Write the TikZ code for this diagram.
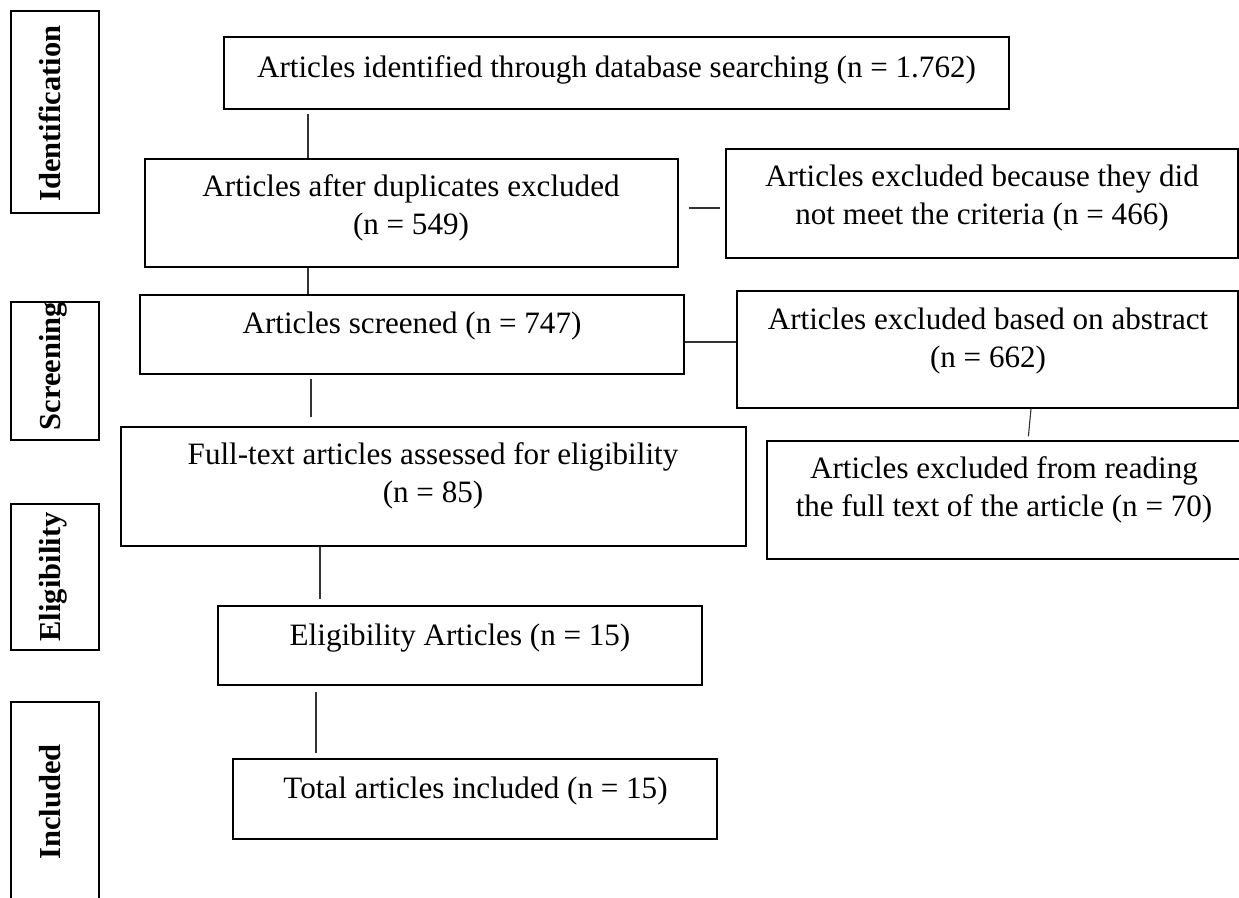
\documentclass[tikz,border=0pt]{standalone}
\usepackage{fontspec}
\setmainfont{Liberation Serif}
\begin{document}
\begin{tikzpicture}[x=1pt,y=-1pt,
  box/.style={draw=black, line width=1.3pt, rectangle, inner sep=0pt},
  txt/.style={inner sep=0pt, font=\fontsize{31.1}{38}\selectfont},
  mtxt/.style={txt, align=center},
  side/.style={inner sep=0pt, rotate=90, anchor=base, font=\fontsize{30.5}{38}\selectfont\bfseries},
  conn/.style={draw=black!80, line width=1.1pt}]
\clip (0,0) rectangle (1239,897);
\fill[white] (0,0) rectangle (1239,897);

% stage boxes
\node[box, minimum width=88pt, minimum height=202pt] (sI) at (55,112) {};
\node[box, minimum width=88pt, minimum height=138pt] (sS) at (55,371) {};
\node[box, minimum width=88pt, minimum height=146pt] (sE) at (55,577) {};
\node[box, minimum width=88pt, minimum height=208pt] (sN) at (55,806) {};
\node[side] (lI) at (60,113.5) {Identification};
\node[side] (lS) at (60,366) {Screening};
\node[side] (lE) at (60,577) {Eligibility};
\node[side] (lN) at (60,802) {Included};

% flow boxes
\node[box, minimum width=785pt, minimum height=72pt]  (b1) at (616.5,73) {};
\node[box, minimum width=533pt, minimum height=108pt] (b2) at (411.5,213) {};
\node[box, minimum width=512pt, minimum height=109pt] (bA) at (982,203.5) {};
\node[box, minimum width=544pt, minimum height=79pt]  (b3) at (412,334.5) {};
\node[box, minimum width=501pt, minimum height=117pt] (bB) at (987.5,349.5) {};
\node[box, minimum width=625pt, minimum height=119pt] (b4) at (433.5,486.5) {};
\node[box, minimum width=475pt, minimum height=118pt] (bC) at (1004.5,500) {};
\node[box, minimum width=484pt, minimum height=79pt]  (b5) at (460,645.5) {};
\node[box, minimum width=484pt, minimum height=80pt]  (b6) at (475,799) {};

% texts
\node[txt, anchor=base] (t1) at (616.5,77) {Articles identified through database searching (n = 1.762)};
\node[mtxt] (t2) at (411,208.2) {Articles after duplicates excluded\\(n = 549)};
\node[mtxt] (tA) at (982,198.2) {Articles excluded because they did\\not meet the criteria (n = 466)};
\node[txt, anchor=base] (t3) at (412,333) {Articles screened (n = 747)};
\node[mtxt] (tB) at (988,341.2) {Articles excluded based on abstract\\(n = 662)};
\node[mtxt] (t4) at (433,475.7) {Full-text articles assessed for eligibility\\(n = 85)};
\node[mtxt] (tC) at (1004,490.2) {Articles excluded from reading\\the full text of the article (n = 70)};
\node[txt, anchor=base] (t5) at (460,645) {Eligibility Articles (n = 15)};
\node[txt, anchor=base] (t6) at (475.5,798) {Total articles included (n = 15)};

% connector guide coordinates
\coordinate (x12) at (308,0);
\coordinate (x34) at (311,0);
\coordinate (x45) at (320,0);
\coordinate (x56) at (316,0);
\coordinate (xB) at (1031,0);
\coordinate (xC) at (1028,0);
\coordinate (y2A) at (0,208);
\coordinate (y3B) at (0,342);

% connectors
\draw[conn, shorten <=4pt] (b1.south -| x12) -- (b2.north -| x12);
\draw[conn] (b2.south -| x12) -- (b3.north -| x12);
\draw[conn, shorten <=10pt, shorten >=5pt] (b2.east |- y2A) -- (bA.west |- y2A);
\draw[conn] (b3.east |- y3B) -- (bB.west |- y3B);
\draw[conn, shorten <=4pt, shorten >=9pt] (b3.south -| x34) -- (b4.north -| x34);
\draw[conn, shorten >=4pt] (bB.south -| xB) -- (bC.north -| xC);
\draw[conn, shorten >=6pt] (b4.south -| x45) -- (b5.north -| x45);
\draw[conn, shorten <=6pt, shorten >=5pt] (b5.south -| x56) -- (b6.north -| x56);
\end{tikzpicture}
\end{document}
